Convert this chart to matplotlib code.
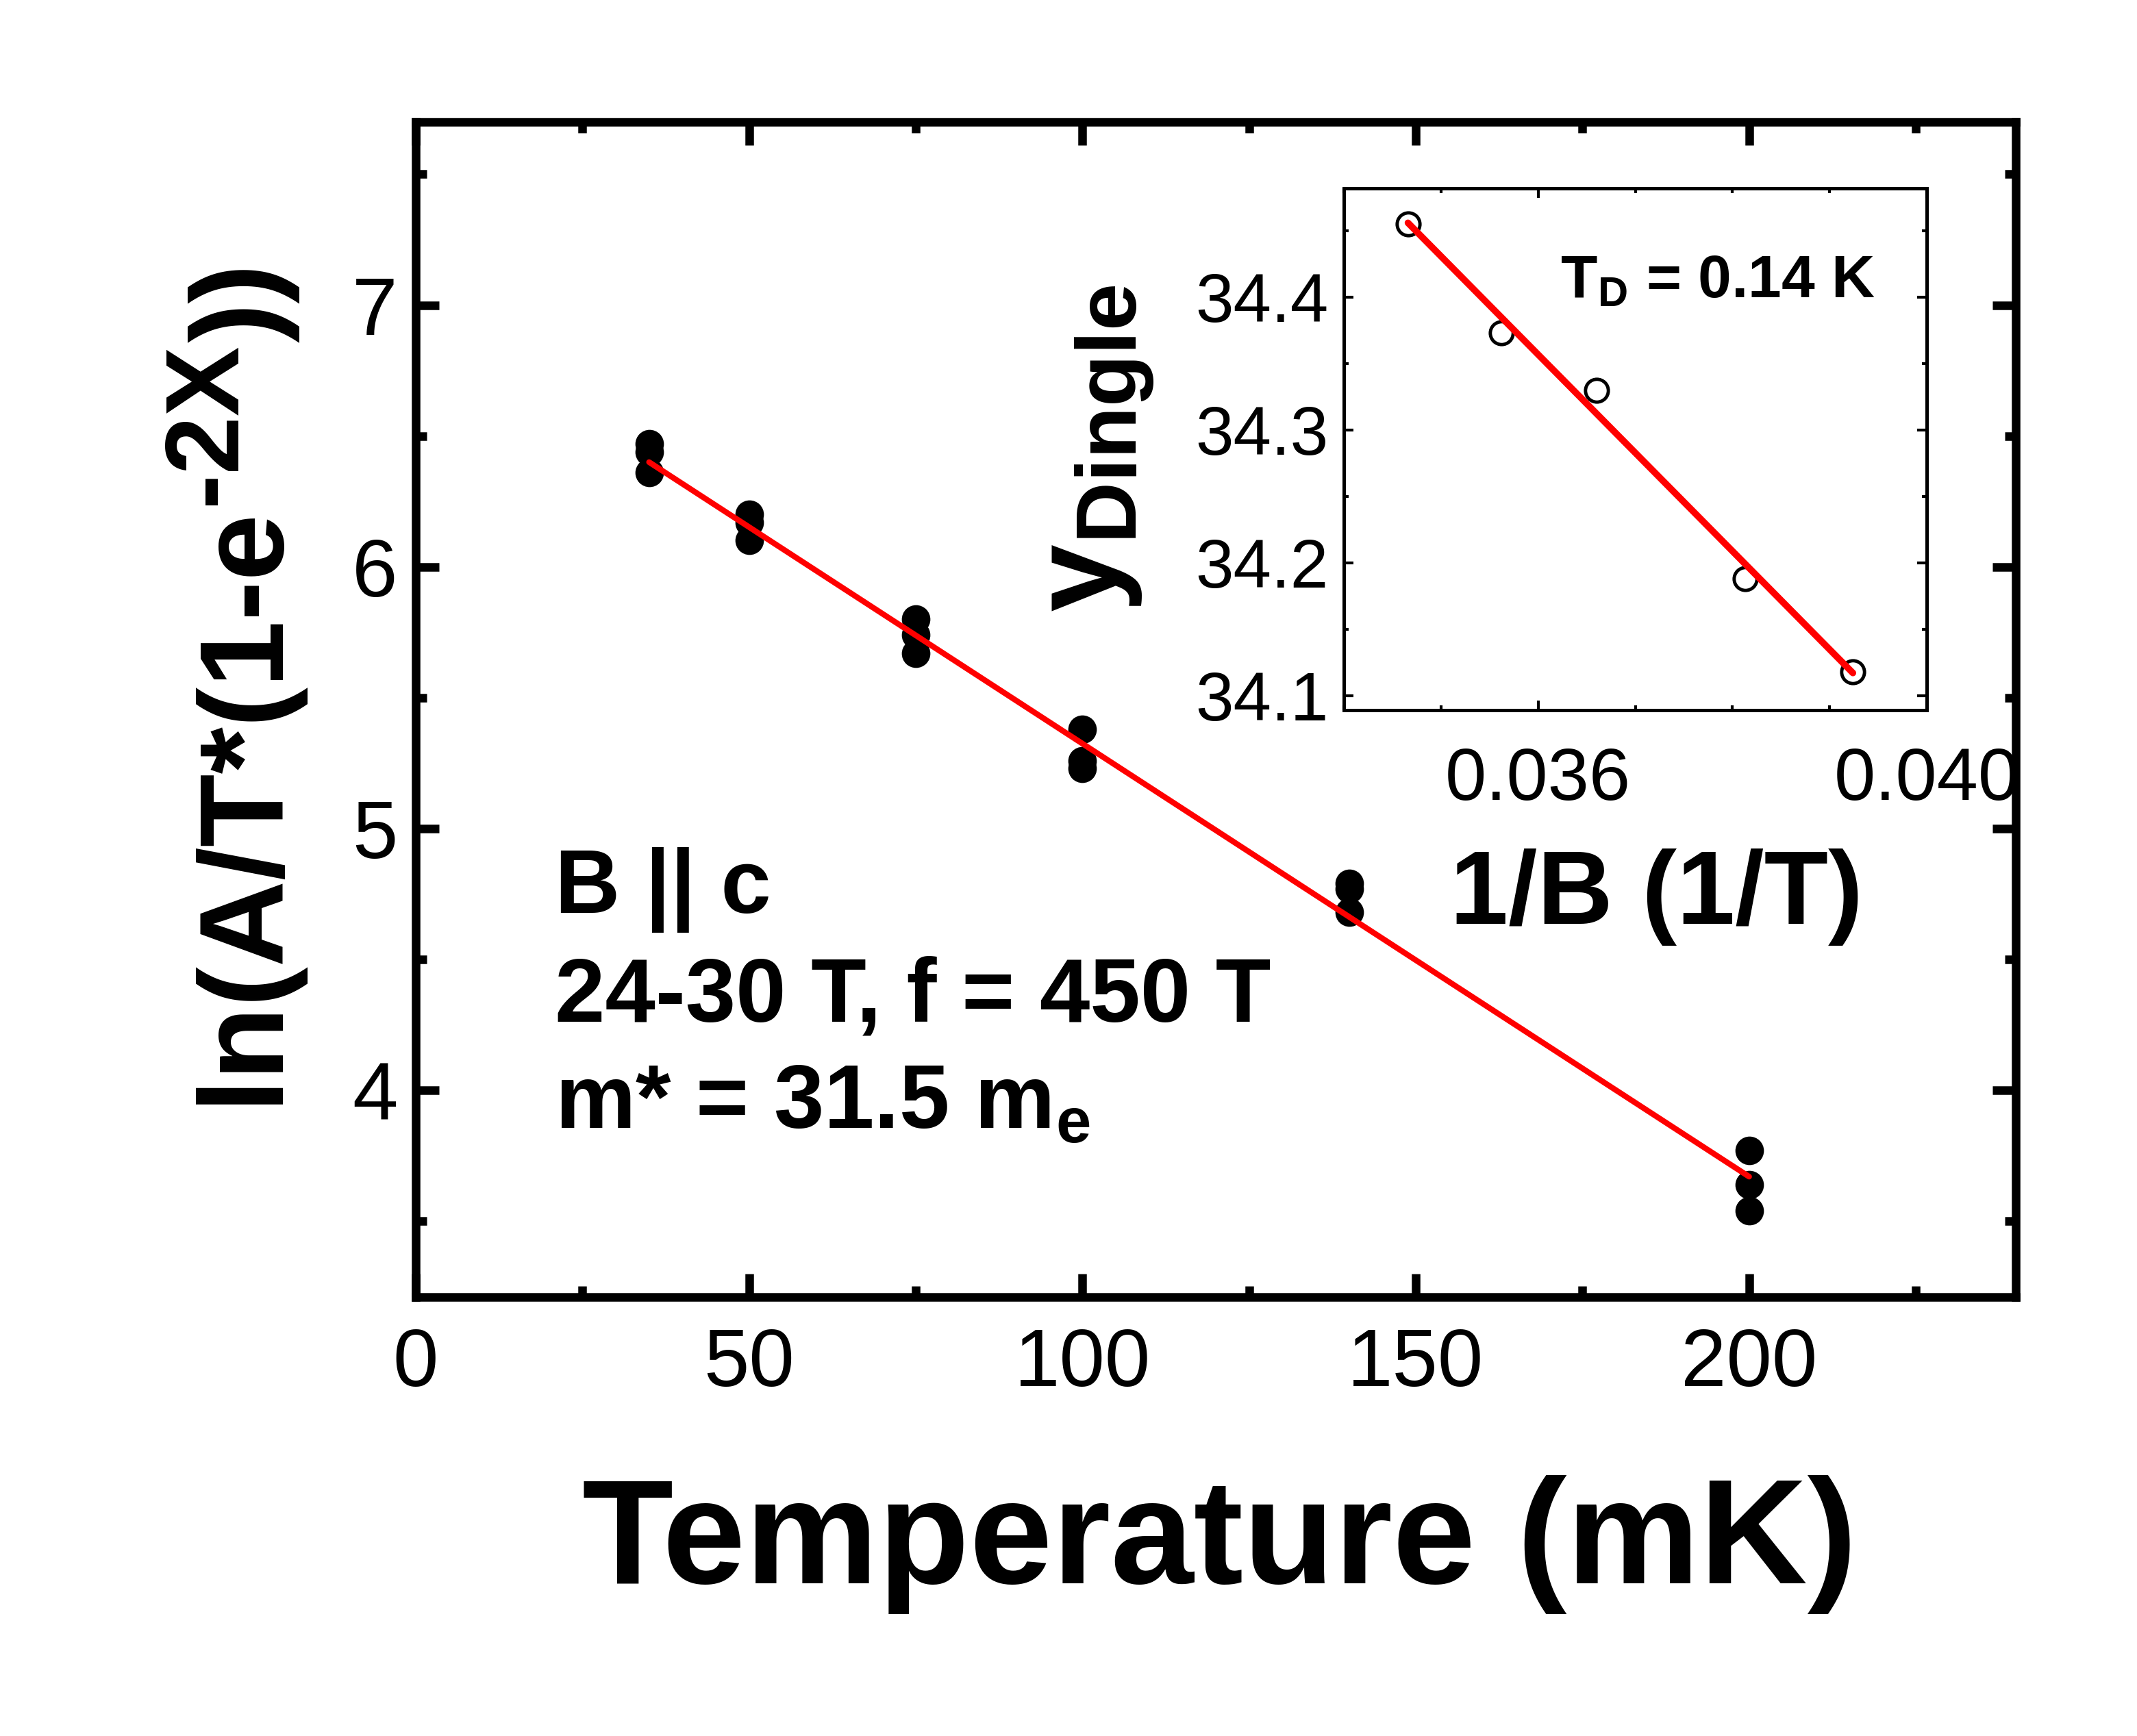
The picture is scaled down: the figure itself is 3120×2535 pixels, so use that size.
import matplotlib
matplotlib.use('Agg')
import matplotlib.pyplot as plt
from matplotlib.ticker import MultipleLocator, FormatStrFormatter
from matplotlib.transforms import IdentityTransform

plt.rcParams['font.family'] = ['Liberation Sans', 'DejaVu Sans']
plt.rcParams['mathtext.fontset'] = 'custom'
plt.rcParams['mathtext.rm'] = 'Liberation Sans'
plt.rcParams['mathtext.bf'] = 'Liberation Sans:bold'
plt.rcParams['mathtext.it'] = 'Liberation Sans:italic'

# main panel: LK fit, three field windows per temperature
temp = [35, 35, 35, 50, 50, 50, 75, 75, 75, 100, 100, 100, 140, 140, 140, 200, 200, 200]
ln_amp = [6.47, 6.44, 6.36, 6.20, 6.17, 6.10, 5.80, 5.74, 5.67,
          5.38, 5.26, 5.23, 4.79, 4.77, 4.68, 3.77, 3.64, 3.54]
fit_temp = [35, 200]
fit_ln_amp = [6.40, 3.67]

# inset: Dingle plot
inv_b = [0.03466, 0.03562, 0.03660, 0.03813, 0.03924]
y_dingle = [34.455, 34.373, 34.330, 34.188, 34.118]
fit_inv_b = [0.03466, 0.03924]
fit_y_dingle = [34.456, 34.117]
inset_xticks = [0.036, 0.040]
inset_xticklabels = ['0.036', '0.040']

W, H = 3120, 2535
fig = plt.figure(figsize=(W / 100, H / 100), dpi=100)
tr = IdentityTransform()


def pix(x, y):
    # image pixel (from top-left) -> display pixel
    return x, H - y


# ---- main axes
ax = fig.add_axes([607 / W, 1 - 1894 / H, (2943 - 607) / W, (1894 - 178) / H])
ax.plot(temp, ln_amp, 'o', color='black', ms=30, mew=0, zorder=2)
ax.plot(fit_temp, fit_ln_amp, '-', color='red', lw=6, solid_capstyle='round', zorder=3)
ax.set_xlim(0, 240)
ax.set_ylim(3.21, 7.70)
ax.xaxis.set_major_locator(MultipleLocator(50))
ax.xaxis.set_minor_locator(MultipleLocator(25))
ax.yaxis.set_major_locator(MultipleLocator(1))
ax.yaxis.set_minor_locator(MultipleLocator(0.5))
ax.tick_params(which='both', direction='in', top=True, right=True, width=9)
ax.tick_params(which='major', length=24.5, labelsize=86)
ax.tick_params(which='minor', length=11.5)
ax.tick_params(axis='x', pad=32)
ax.tick_params(axis='y', pad=19)
for s in ax.spines.values():
    s.set_linewidth(9)

# x label
x, y = pix(1781, 2312)
fig.text(x, y, 'Temperature (mK)', transform=tr, ha='center', va='baseline',
         fontsize=157, fontweight='bold')

# y label built from pieces so the exponent can be sized like the original
fig.canvas.draw()
r = fig.canvas.get_renderer()
x_base, y0 = pix(402, 1612)
kw = dict(transform=tr, rotation=90, rotation_mode='anchor', ha='left',
          va='baseline', fontweight='bold')
t1 = fig.text(x_base, y0, 'ln(A/T*(1-e', fontsize=126, **kw)
y1 = y0 + t1.get_window_extent(r).height
t2 = fig.text(x_base - 59, y1, '-2X', fontsize=110, **kw)
y2 = y1 + t2.get_window_extent(r).height
fig.text(x_base, y2, '))', fontsize=126, **kw)

# annotations
for txt, yy in [('B || c', 1333), ('24-30 T, f = 450 T', 1492),
                (r'm* = 31.5 m$_\mathbf{e}$', 1648)]:
    x, y = pix(810, yy)
    fig.text(x, y, txt, transform=tr, ha='left', va='baseline',
             fontsize=95, fontweight='bold')

# ---- inset
axi = fig.add_axes([1962 / W, 1 - 1037 / H, (2813 - 1962) / W, (1037 - 275) / H])
axi.plot(inv_b, y_dingle, 'o', mfc='none', mec='black', ms=24, mew=3.5, zorder=2)
axi.plot(fit_inv_b, fit_y_dingle, '-', color='red', lw=7, solid_capstyle='round', zorder=3)
axi.set_xlim(0.034, 0.040)
axi.set_ylim(34.089, 34.482)
axi.set_xticks(inset_xticks)
axi.set_xticklabels(inset_xticklabels)
axi.xaxis.set_minor_locator(MultipleLocator(0.001))
axi.yaxis.set_major_locator(MultipleLocator(0.1))
axi.yaxis.set_minor_locator(MultipleLocator(0.05))
axi.yaxis.set_major_formatter(FormatStrFormatter('%.1f'))
axi.tick_params(which='both', direction='in', top=True, right=True, width=3)
axi.tick_params(which='major', length=10)
axi.tick_params(which='minor', length=5)
axi.tick_params(axis='x', pad=38, labelsize=78)
axi.tick_params(axis='y', pad=16, labelsize=72)
for s in axi.spines.values():
    s.set_linewidth(3.6)

x, y = pix(2418, 1349)
fig.text(x, y, '1/B (1/T)', transform=tr, ha='center', va='baseline',
         fontsize=110, fontweight='bold')
x, y = pix(1604, 655)
fig.text(x, y, r'$\mathbf{y}_{\mathbf{Dingle}}$', transform=tr, rotation=90,
         ha='center', va='center', fontsize=128)
x, y = pix(2278, 434)
fig.text(x, y, r'T$_\mathbf{D}$ = 0.14 K', transform=tr, ha='left', va='baseline',
         fontsize=63, fontweight='bold')

fig.savefig('out.png', dpi=100)
